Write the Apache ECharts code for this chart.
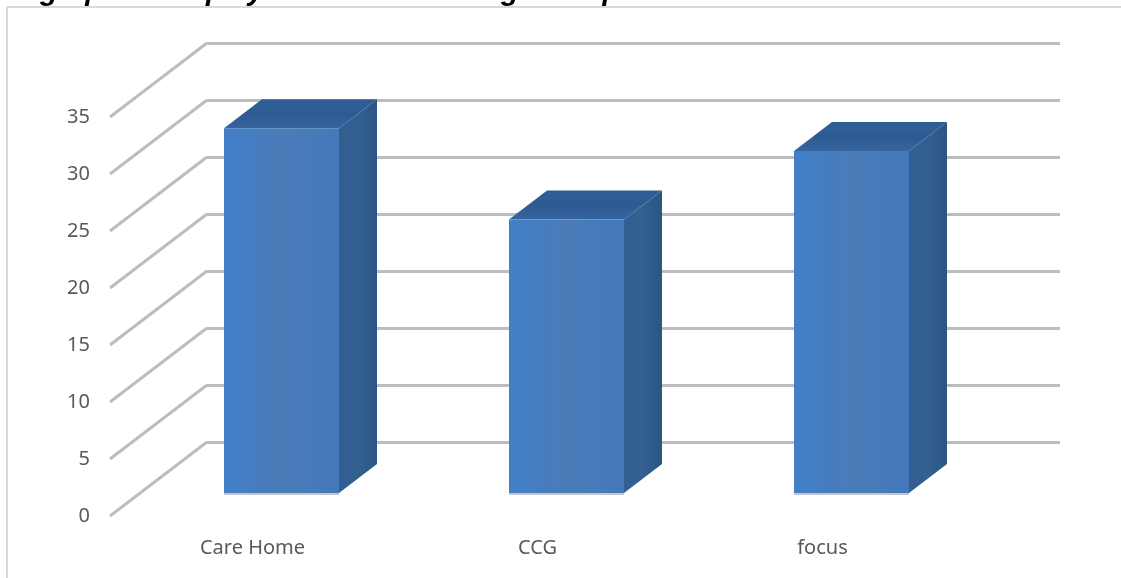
<!DOCTYPE html>
<html><head><meta charset="utf-8">
<style>html,body{margin:0;padding:0;background:#fff}#c{width:1121px;height:578px}</style>
<script src="https://cdn.jsdelivr.net/npm/echarts@6/dist/echarts.min.js"></script>
</head><body><div id="c"></div>
<script>
const categories = ['Care Home', 'CCG', 'focus'];
const values = [32, 24, 30];
const yTicks = [0, 5, 10, 15, 20, 25, 30, 35];
const titleText = 'graph to display the overall average comparison for care';

const LABEL_FONT = '"Noto Sans", "Open Sans", sans-serif';
const wallDepth = [97, -74], barDepth = [38, -29], barWidth = 115;
const GREY = '#bdbdbd';

function diag(params, api) {
  const y = api.coord([0, api.value(0)])[1];
  const x = params.coordSys.x;
  return {type: 'line', shape: {x1: x, y1: y, x2: x + wallDepth[0], y2: y + wallDepth[1]},
    style: {stroke: GREY, lineWidth: 3}, z2: 1};
}
function bar(params, api) {
  const c = api.coord([api.value(0), api.value(1)]);
  const base = api.coord([api.value(0), 0])[1];
  const l = c[0] - barWidth / 2, r = c[0] + barWidth / 2, t = c[1];
  const [dx, dy] = barDepth;
  const poly = (pts, fill) => ({type: 'polygon', shape: {points: pts}, style: {fill}});
  const lin = (x, y, x2, y2, a, b, m) => ({type: 'linear', x, y, x2, y2, colorStops: [
    {offset: 0, color: a}, {offset: 0.5, color: m || a}, {offset: 1, color: b}]});
  return {type: 'group', children: [
    poly([[l, t], [r, t], [r + dx, t + dy], [l + dx, t + dy]], lin(0, 1, 0, 0, '#36649f', '#2f5f94', '#2e5a94')),
    poly([[r, t], [r + dx, t + dy], [r + dx, base + dy], [r, base]], lin(0, 0, 1, 0, '#335e92', '#2a5585', '#33608f')),
    poly([[l, t], [r, t], [r, base], [l, base]], lin(0, 0, 1, 0, '#427fca', '#4379bb', '#4a7cb8')),
    {type: 'line', shape: {x1: l, y1: base + 1, x2: r, y2: base + 1}, style: {stroke: '#b5b5b5', lineWidth: 1.5}}
  ]};
}

const chart = echarts.init(document.getElementById('c'), null, {renderer: 'canvas'});
chart.setOption({
  animation: false,
  backgroundColor: '#fff',
  graphic: [
    {type: 'line', silent: true, shape: {x1: 7, y1: 7, x2: 1121, y2: 7}, style: {stroke: '#d9d9d9', lineWidth: 2}},
    {type: 'line', silent: true, shape: {x1: 7, y1: 7, x2: 7, y2: 578}, style: {stroke: '#d9d9d9', lineWidth: 2}},
    {type: 'text', silent: true, x: 40, y: 6, style: {text: titleText, fill: '#000', verticalAlign: 'bottom',
      font: 'italic bold 29px "Liberation Sans", Arial, sans-serif'}}
  ],
  grid: [
    {left: 207, right: 61, top: 43, bottom: 136},
    {left: 110, width: 855, top: 117, bottom: 62},
    {left: 139, width: 855, top: 94, bottom: 85}
  ],
  xAxis: [
    {gridIndex: 0, type: 'category', data: categories, show: false},
    {gridIndex: 1, type: 'category', data: categories, axisLine: {show: false}, axisTick: {show: false},
      axisLabel: {margin: 22, fontSize: 20, color: '#595959', fontFamily: LABEL_FONT}},
    {gridIndex: 2, type: 'category', data: categories, show: false}
  ],
  yAxis: [
    {gridIndex: 0, type: 'value', min: 0, max: 35, interval: 5, axisLine: {show: false}, axisTick: {show: false},
      axisLabel: {show: false}, splitLine: {show: true, lineStyle: {color: GREY, width: 3}}},
    {gridIndex: 1, type: 'value', min: 0, max: 35, interval: 5, axisLine: {show: false}, axisTick: {show: false},
      splitLine: {show: false}, axisLabel: {margin: 20, fontSize: 20, color: '#595959', fontFamily: LABEL_FONT, padding: [8, 0, 0, 0]}},
    {gridIndex: 2, type: 'value', min: 0, max: 35, interval: 5, show: false, splitLine: {show: false}}
  ],
  series: [
    {type: 'custom', xAxisIndex: 1, yAxisIndex: 1, data: yTicks.map(v => [v]), encode: {y: 0}, renderItem: diag, silent: true, z: 2},
    {type: 'custom', xAxisIndex: 2, yAxisIndex: 2, data: values.map((v, i) => [i, v]), encode: {x: 0, y: 1}, renderItem: bar, silent: true, z: 3}
  ]
});
</script></body></html>
